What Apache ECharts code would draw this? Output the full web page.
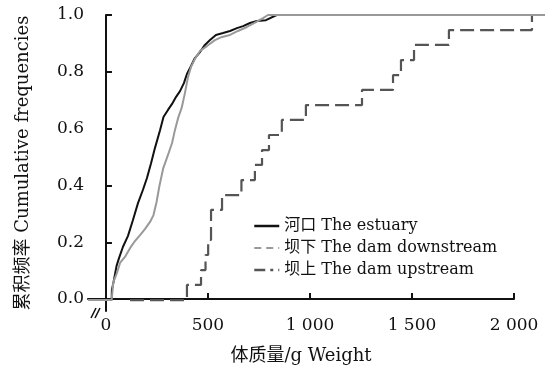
<!DOCTYPE html>
<html>
<head>
<meta charset="utf-8">
<script src="https://cdn.jsdelivr.net/npm/echarts@6/dist/echarts.min.js"></script>
<style>
html,body{margin:0;padding:0;background:#fff;}
#chart{width:548px;height:370px;}
</style>
</head>
<body>
<div id="chart"></div>
<script>
// Series names
var seriesNames = ['河口 The estuary', '坝下 The dam downstream', '坝上 The dam upstream'];

// Estuary (河口) cumulative curve: weight (g) and cumulative frequency
var estuaryX = [-88, 28, 29, 39, 52, 64, 83, 108, 132, 157, 181, 201, 221, 240, 265, 282, 304, 324, 343, 363, 382, 397, 417, 436, 461, 485, 510, 539, 574, 608, 642, 672, 706, 740, 784, 837, 2130];
var estuaryY = [0, 0, 0.035, 0.07, 0.12, 0.147, 0.186, 0.225, 0.28, 0.34, 0.386, 0.428, 0.48, 0.533, 0.596, 0.642, 0.667, 0.688, 0.712, 0.733, 0.761, 0.793, 0.821, 0.849, 0.870, 0.895, 0.912, 0.930, 0.937, 0.944, 0.954, 0.961, 0.972, 0.979, 0.982, 1.0, 1.0];

// Dam downstream (坝下)
var downX = [-88, 28, 36, 54, 69, 93, 118, 142, 167, 191, 216, 233, 248, 262, 281, 304, 324, 338, 355, 371, 387, 402, 417, 436, 461, 495, 534, 569, 608, 647, 691, 735, 770, 794, 2152];
var downY = [0, 0, 0.063, 0.095, 0.130, 0.151, 0.182, 0.207, 0.228, 0.249, 0.274, 0.298, 0.344, 0.400, 0.463, 0.509, 0.551, 0.596, 0.642, 0.674, 0.726, 0.782, 0.818, 0.846, 0.874, 0.891, 0.912, 0.923, 0.930, 0.944, 0.958, 0.975, 0.989, 1.0, 1.0];

// Dam upstream (坝上)
var upX = [118, 397, 466, 488, 501, 515, 569, 664, 730, 765, 799, 862, 980, 1255, 1407, 1446, 1510, 1681, 2088, 2152];
var upY = [0, 0.053, 0.105, 0.158, 0.211, 0.316, 0.368, 0.421, 0.474, 0.526, 0.579, 0.632, 0.684, 0.737, 0.789, 0.842, 0.895, 0.947, 1.0, 1.0];

// Tick labels
var xTickValues = [0, 500, 1000, 1500, 2000];
var xTickLabels = ['0', '500', '1 000', '1 500', '2 000'];
var yTickValues = [0, 0.2, 0.4, 0.6, 0.8, 1.0];
var yTickLabels = ['0.0', '0.2', '0.4', '0.6', '0.8', '1.0'];

// Axis ranges
var xMin = -88, xAxisMax = 2000, xDataMax = 2152;
var yMin = -0.042, yMax = 1.0;

function pairs(xs, ys) {
  var out = [];
  for (var i = 0; i < xs.length; i++) out.push([xs[i], ys[i]]);
  return out;
}

var FONT = "'DejaVu Serif', 'Noto Sans CJK SC', serif";
var GL = 88, GT = 15, GB = 58, GR = 34;
var plotW = 548 - GL - GR;
// data grid extends further right so the curves can run past the 2 000 tick
var dataGR = GR - plotW * (xDataMax - xAxisMax) / (xAxisMax - xMin);

var chart = echarts.init(document.getElementById('chart'), null, {renderer: 'canvas'});
chart.setOption({
  animation: false,
  backgroundColor: '#ffffff',
  textStyle: {fontFamily: FONT, color: '#111'},
  grid: [
    {left: GL, right: GR, top: GT, bottom: GB, containLabel: false},
    {left: GL, right: dataGR, top: GT, bottom: GB, containLabel: false}
  ],
  legend: {
    orient: 'vertical',
    left: 248,
    top: 213,
    itemWidth: 25,
    itemHeight: 10,
    itemGap: 6,
    textStyle: {fontFamily: FONT, fontSize: 16, color: '#111'},
    itemStyle: {opacity: 0, borderWidth: 0},
    data: [
      {name: seriesNames[0], itemStyle: {opacity: 0}, lineStyle: {color: '#111', width: 2.5, type: 'solid'}},
      {name: seriesNames[1], itemStyle: {opacity: 0}, lineStyle: {color: '#999', width: 2, type: [7, 5]}},
      {name: seriesNames[2], itemStyle: {opacity: 0}, lineStyle: {color: '#555', width: 2.5, type: [11, 5, 3, 5]}}
    ]
  },
  xAxis: [{
    gridIndex: 0,
    type: 'value',
    min: xMin,
    max: xAxisMax,
    name: '体质量/g Weight',
    nameLocation: 'middle',
    nameGap: 36,
    nameTextStyle: {fontFamily: FONT, fontSize: 18, color: '#111'},
    splitLine: {show: false},
    axisLine: {show: true, lineStyle: {color: '#111', width: 2}},
    axisTick: {show: true, inside: true, length: 6, customValues: xTickValues, lineStyle: {color: '#111', width: 2}},
    axisLabel: {
      customValues: xTickValues,
      margin: 6,
      fontFamily: FONT, fontSize: 17, color: '#111',
      formatter: function (v) { var i = xTickValues.indexOf(v); return i >= 0 ? xTickLabels[i] : ''; }
    }
  }, {
    gridIndex: 1,
    type: 'value',
    min: xMin,
    max: xDataMax,
    show: false,
    splitLine: {show: false}
  }],
  yAxis: [{
    gridIndex: 0,
    type: 'value',
    min: yMin,
    max: yMax,
    name: '累积频率 Cumulative frequencies',
    nameLocation: 'middle',
    nameGap: 56,
    nameTextStyle: {fontFamily: FONT, fontSize: 18, color: '#111'},
    splitLine: {show: false},
    axisLine: {show: true, lineStyle: {color: '#111', width: 2}},
    axisTick: {show: true, inside: true, length: 6, customValues: yTickValues, lineStyle: {color: '#111', width: 2}},
    axisLabel: {
      customValues: yTickValues,
      margin: 4,
      fontFamily: FONT, fontSize: 17, color: '#111',
      formatter: function (v) {
        for (var i = 0; i < yTickValues.length; i++) if (Math.abs(yTickValues[i] - v) < 1e-9) return yTickLabels[i];
        return '';
      }
    }
  }, {
    gridIndex: 1,
    type: 'value',
    min: yMin,
    max: yMax,
    show: false,
    splitLine: {show: false}
  }],
  series: [
    {
      name: seriesNames[0], type: 'line', xAxisIndex: 1, yAxisIndex: 1, symbol: 'none',
      lineStyle: {color: '#111', width: 2}, itemStyle: {color: '#111'},
      data: pairs(estuaryX, estuaryY), z: 3
    },
    {
      name: seriesNames[1], type: 'line', xAxisIndex: 1, yAxisIndex: 1, symbol: 'none',
      lineStyle: {color: '#999', width: 2}, itemStyle: {color: '#999'},
      data: pairs(downX, downY), z: 4
    },
    {
      name: seriesNames[2], type: 'line', xAxisIndex: 1, yAxisIndex: 1, step: 'end', symbol: 'none',
      lineStyle: {color: '#555', width: 2.2, type: [14, 6]}, itemStyle: {color: '#555'},
      data: pairs(upX, upY), z: 2
    }
  ],
  graphic: [
    {type: 'line', shape: {x1: 91, y1: 318, x2: 96, y2: 308}, style: {stroke: '#111', lineWidth: 1.5}, z: 10},
    {type: 'line', shape: {x1: 95, y1: 318, x2: 100, y2: 308}, style: {stroke: '#111', lineWidth: 1.5}, z: 10}
  ]
});
</script>
</body>
</html>
